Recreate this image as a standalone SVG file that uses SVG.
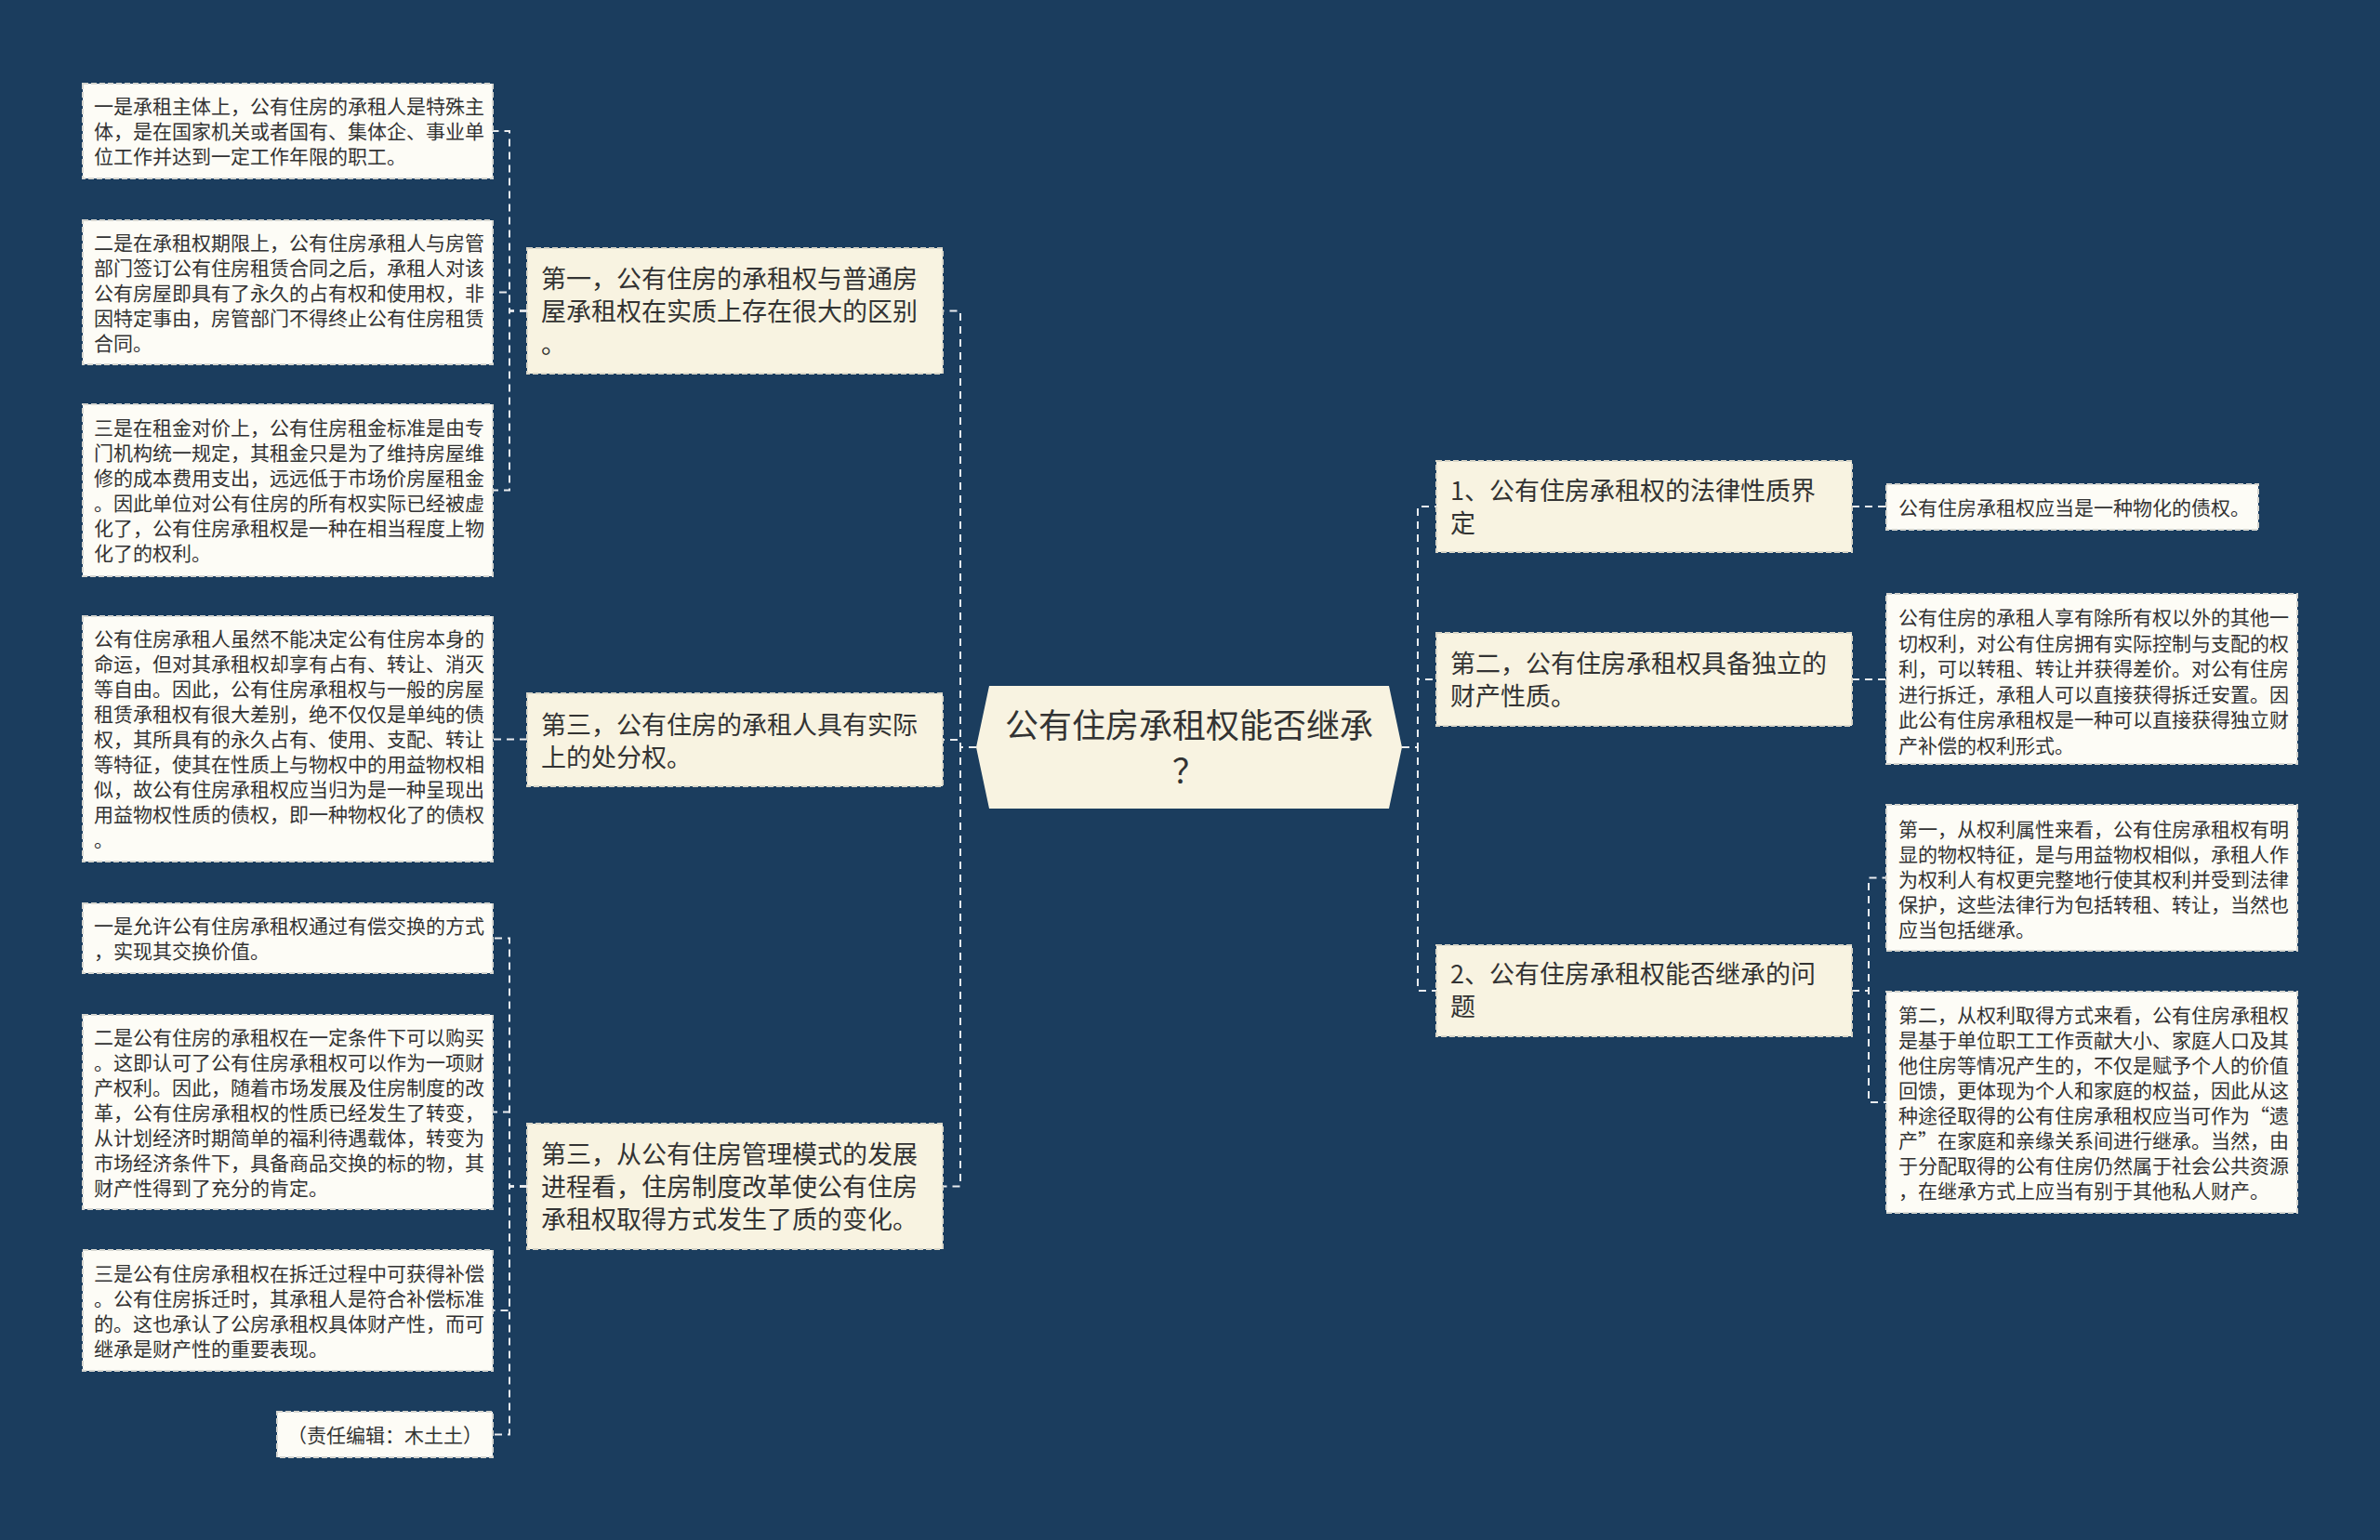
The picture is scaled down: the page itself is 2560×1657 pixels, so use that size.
<svg xmlns="http://www.w3.org/2000/svg" width="2560" height="1657" viewBox="0 0 2560 1657">
<style>
text{font-family:"Noto Sans CJK SC","Noto Sans",sans-serif;fill:#333333}
.bg{fill:#1b3d5e}
.l1{fill:#f8f3e1;stroke:#d9d6c8;stroke-width:2;stroke-dasharray:6 3}
.lf{fill:#fdfcf6;stroke:#d6d6d0;stroke-width:2;stroke-dasharray:6 3}
.hex{fill:#f8f3e1}
.t1{font-size:27px}
.tl{font-size:21px}
.tc{font-size:36px}
.cn{fill:none;stroke:#e9ecef;stroke-width:2;stroke-dasharray:8 6}
</style>
<rect class="bg" x="0" y="0" width="2560" height="1657"/>
<g id="connectors">
<path class="cn" d="M1050 804 H1033 V334.5 H1014"/>
<path class="cn" d="M1050 804 H1033 V796 H1014"/>
<path class="cn" d="M1050 804 H1033 V1276.5 H1014"/>
<path class="cn" d="M1508 804 H1525 V545 H1545"/>
<path class="cn" d="M1508 804 H1525 V731 H1545"/>
<path class="cn" d="M1508 804 H1525 V1066 H1545"/>
<path class="cn" d="M567 334.5 H548 V141 H530"/>
<path class="cn" d="M567 334.5 H548 V314.5 H530"/>
<path class="cn" d="M567 334.5 H548 V527.5 H530"/>
<path class="cn" d="M567 795.5 H530"/>
<path class="cn" d="M567 1276.5 H548 V1009.5 H530"/>
<path class="cn" d="M567 1276.5 H548 V1196.5 H530"/>
<path class="cn" d="M567 1276.5 H548 V1410 H530"/>
<path class="cn" d="M567 1276.5 H548 V1543.5 H530"/>
<path class="cn" d="M1992 545 H2029"/>
<path class="cn" d="M1992 731 H2029"/>
<path class="cn" d="M1992 1066 H2010 V944.5 H2029"/>
<path class="cn" d="M1992 1066 H2010 V1186 H2029"/>
</g>
<g id="root">
<polygon class="hex" points="1064,738 1494,738 1508,804 1494,870 1064,870 1050,804"/>
<text class="tc" x="1279" text-anchor="middle"><tspan x="1279" y="794">公有住房承租权能否继承</tspan><tspan x="1279" y="843">？</tspan></text>
</g>
<g id="n-a">
<rect class="l1" x="567" y="267" width="447" height="135"/>
<text class="t1"><tspan x="582" y="309.5">第一，公有住房的承租权与普通房</tspan><tspan x="582" y="344.5">屋承租权在实质上存在很大的区别</tspan><tspan x="582" y="379.5">。</tspan></text>
</g>
<g id="n-b">
<rect class="l1" x="567" y="746" width="447" height="100"/>
<text class="t1"><tspan x="582" y="790">第三，公有住房的承租人具有实际</tspan><tspan x="582" y="825">上的处分权。</tspan></text>
</g>
<g id="n-c">
<rect class="l1" x="567" y="1209" width="447" height="135"/>
<text class="t1"><tspan x="582" y="1252">第三，从公有住房管理模式的发展</tspan><tspan x="582" y="1287">进程看，住房制度改革使公有住房</tspan><tspan x="582" y="1322">承租权取得方式发生了质的变化。</tspan></text>
</g>
<g id="n-r1">
<rect class="l1" x="1545" y="496" width="447" height="98"/>
<text class="t1"><tspan x="1560" y="538">1、公有住房承租权的法律性质界</tspan><tspan x="1560" y="573">定</tspan></text>
</g>
<g id="n-r2">
<rect class="l1" x="1545" y="681" width="447" height="100"/>
<text class="t1"><tspan x="1560" y="724">第二，公有住房承租权具备独立的</tspan><tspan x="1560" y="759">财产性质。</tspan></text>
</g>
<g id="n-r3">
<rect class="l1" x="1545" y="1017" width="447" height="98"/>
<text class="t1"><tspan x="1560" y="1058">2、公有住房承租权能否继承的问</tspan><tspan x="1560" y="1093">题</tspan></text>
</g>
<g id="leaf-a1">
<rect class="lf" x="89" y="90" width="441" height="102"/>
<text class="tl"><tspan x="101" y="122">一是承租主体上，公有住房的承租人是特殊主</tspan><tspan x="101" y="149">体，是在国家机关或者国有、集体企、事业单</tspan><tspan x="101" y="176">位工作并达到一定工作年限的职工。</tspan></text>
</g>
<g id="leaf-a2">
<rect class="lf" x="89" y="237" width="441" height="155"/>
<text class="tl"><tspan x="101" y="268.5">二是在承租权期限上，公有住房承租人与房管</tspan><tspan x="101" y="295.5">部门签订公有住房租赁合同之后，承租人对该</tspan><tspan x="101" y="322.5">公有房屋即具有了永久的占有权和使用权，非</tspan><tspan x="101" y="349.5">因特定事由，房管部门不得终止公有住房租赁</tspan><tspan x="101" y="376.5">合同。</tspan></text>
</g>
<g id="leaf-a3">
<rect class="lf" x="89" y="435" width="441" height="185"/>
<text class="tl"><tspan x="101" y="468">三是在租金对价上，公有住房租金标准是由专</tspan><tspan x="101" y="495">门机构统一规定，其租金只是为了维持房屋维</tspan><tspan x="101" y="522">修的成本费用支出，远远低于市场价房屋租金</tspan><tspan x="101" y="549">。因此单位对公有住房的所有权实际已经被虚</tspan><tspan x="101" y="576">化了，公有住房承租权是一种在相当程度上物</tspan><tspan x="101" y="603">化了的权利。</tspan></text>
</g>
<g id="leaf-b1">
<rect class="lf" x="89" y="663" width="441" height="264"/>
<text class="tl"><tspan x="101" y="695">公有住房承租人虽然不能决定公有住房本身的</tspan><tspan x="101" y="722">命运，但对其承租权却享有占有、转让、消灭</tspan><tspan x="101" y="749">等自由。因此，公有住房承租权与一般的房屋</tspan><tspan x="101" y="776">租赁承租权有很大差别，绝不仅仅是单纯的债</tspan><tspan x="101" y="803">权，其所具有的永久占有、使用、支配、转让</tspan><tspan x="101" y="830">等特征，使其在性质上与物权中的用益物权相</tspan><tspan x="101" y="857">似，故公有住房承租权应当归为是一种呈现出</tspan><tspan x="101" y="884">用益物权性质的债权，即一种物权化了的债权</tspan><tspan x="101" y="911">。</tspan></text>
</g>
<g id="leaf-c1">
<rect class="lf" x="89" y="972" width="441" height="75"/>
<text class="tl"><tspan x="101" y="1004">一是允许公有住房承租权通过有偿交换的方式</tspan><tspan x="101" y="1031">，实现其交换价值。</tspan></text>
</g>
<g id="leaf-c2">
<rect class="lf" x="89" y="1092" width="441" height="209"/>
<text class="tl"><tspan x="101" y="1123.5">二是公有住房的承租权在一定条件下可以购买</tspan><tspan x="101" y="1150.5">。这即认可了公有住房承租权可以作为一项财</tspan><tspan x="101" y="1177.5">产权利。因此，随着市场发展及住房制度的改</tspan><tspan x="101" y="1204.5">革，公有住房承租权的性质已经发生了转变，</tspan><tspan x="101" y="1231.5">从计划经济时期简单的福利待遇载体，转变为</tspan><tspan x="101" y="1258.5">市场经济条件下，具备商品交换的标的物，其</tspan><tspan x="101" y="1285.5">财产性得到了充分的肯定。</tspan></text>
</g>
<g id="leaf-c3">
<rect class="lf" x="89" y="1345" width="441" height="130"/>
<text class="tl"><tspan x="101" y="1377.5">三是公有住房承租权在拆迁过程中可获得补偿</tspan><tspan x="101" y="1404.5">。公有住房拆迁时，其承租人是符合补偿标准</tspan><tspan x="101" y="1431.5">的。这也承认了公房承租权具体财产性，而可</tspan><tspan x="101" y="1458.5">继承是财产性的重要表现。</tspan></text>
</g>
<g id="leaf-c4">
<rect class="lf" x="298" y="1519" width="232" height="49"/>
<text class="tl" x="414" y="1551.5" text-anchor="middle">（责任编辑：木土土）</text>
</g>
<g id="leaf-r1">
<rect class="lf" x="2029" y="521" width="400" height="49"/>
<text class="tl" x="2042" y="553.5">公有住房承租权应当是一种物化的债权。</text>
</g>
<g id="leaf-r2">
<rect class="lf" x="2029" y="639" width="442" height="183"/>
<text class="tl"><tspan x="2042" y="672">公有住房的承租人享有除所有权以外的其他一</tspan><tspan x="2042" y="699.5">切权利，对公有住房拥有实际控制与支配的权</tspan><tspan x="2042" y="727">利，可以转租、转让并获得差价。对公有住房</tspan><tspan x="2042" y="754.5">进行拆迁，承租人可以直接获得拆迁安置。因</tspan><tspan x="2042" y="782">此公有住房承租权是一种可以直接获得独立财</tspan><tspan x="2042" y="809.5">产补偿的权利形式。</tspan></text>
</g>
<g id="leaf-r3">
<rect class="lf" x="2029" y="866" width="442" height="157"/>
<text class="tl"><tspan x="2042" y="899.5">第一，从权利属性来看，公有住房承租权有明</tspan><tspan x="2042" y="926.5">显的物权特征，是与用益物权相似，承租人作</tspan><tspan x="2042" y="953.5">为权利人有权更完整地行使其权利并受到法律</tspan><tspan x="2042" y="980.5">保护，这些法律行为包括转租、转让，当然也</tspan><tspan x="2042" y="1007.5">应当包括继承。</tspan></text>
</g>
<g id="leaf-r4">
<rect class="lf" x="2029" y="1067" width="442" height="238"/>
<text class="tl"><tspan x="2042" y="1100">第二，从权利取得方式来看，公有住房承租权</tspan><tspan x="2042" y="1127">是基于单位职工工作贡献大小、家庭人口及其</tspan><tspan x="2042" y="1154">他住房等情况产生的，不仅是赋予个人的价值</tspan><tspan x="2042" y="1181">回馈，更体现为个人和家庭的权益，因此从这</tspan><tspan x="2042" y="1208">种途径取得的公有住房承租权应当可作为“遗</tspan><tspan x="2042" y="1235">产”在家庭和亲缘关系间进行继承。当然，由</tspan><tspan x="2042" y="1262">于分配取得的公有住房仍然属于社会公共资源</tspan><tspan x="2042" y="1289">，在继承方式上应当有别于其他私人财产。</tspan></text>
</g>
</svg>
